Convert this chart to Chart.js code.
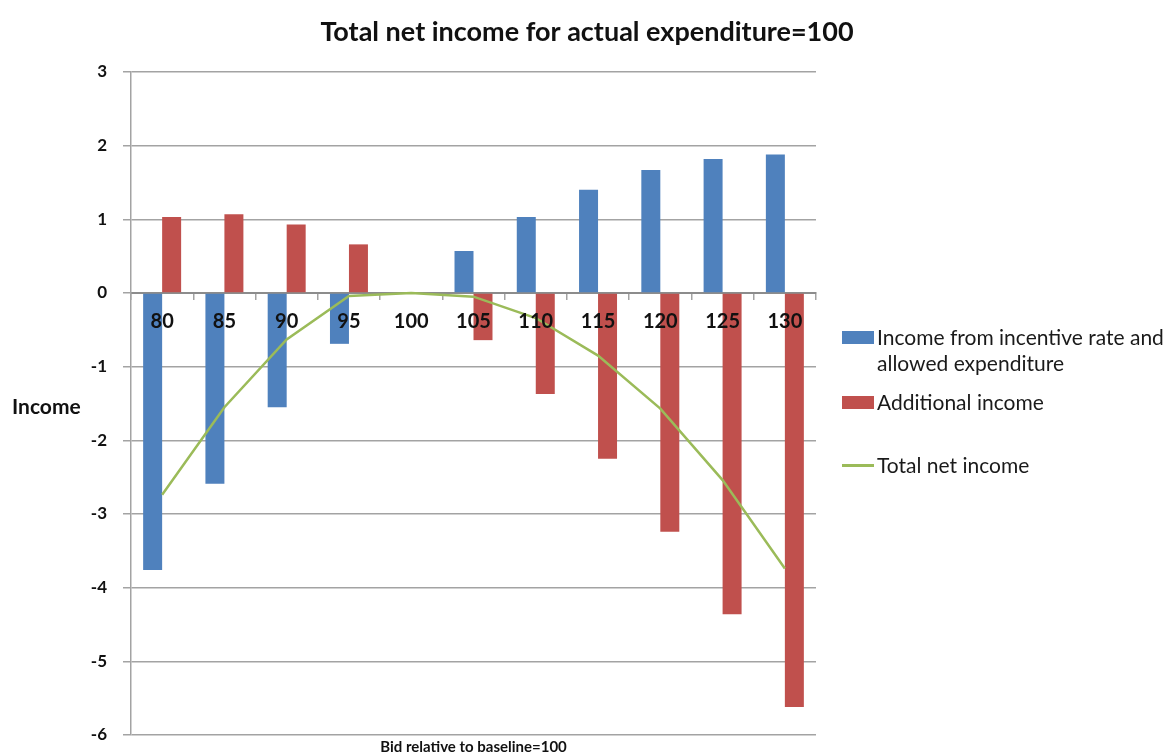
<!DOCTYPE html>
<html>
<head>
<meta charset="utf-8">
<script src="https://cdn.jsdelivr.net/npm/chart.js@4/dist/chart.umd.min.js"></script>
<style>
  html, body { margin: 0; padding: 0; background: #fff; }
  #wrap { position: relative; width: 1167px; height: 756px; }
  #legend { position: absolute; left: 842px; top: 0; font-family: Lato, "Open Sans", sans-serif; font-size: 21px; color: #1a1a1a; }
  .item { position: absolute; left: 0; white-space: nowrap; line-height: 26px; }
  .sw { position: absolute; left: 0; width: 32px; }
  .txt { position: absolute; left: 35px; }
</style>
</head>
<body>
<div id="wrap">
  <canvas id="chart" width="1167" height="756"></canvas>
  <div id="legend"></div>
</div>
<script>
// ── Data ─────────────────────────────────────────────────────
const bids       = ['80', '85', '90', '95', '100', '105', '110', '115', '120', '125', '130'];
const incentive  = [-3.76, -2.59, -1.55, -0.69, 0, 0.57, 1.03, 1.40, 1.67, 1.82, 1.88];
const additional = [1.03, 1.07, 0.93, 0.66, 0, -0.64, -1.37, -2.25, -3.24, -4.36, -5.62];
const totalNet   = [-2.74, -1.55, -0.63, -0.04, 0, -0.05, -0.34, -0.85, -1.57, -2.54, -3.74];
const yTicks     = [3, 2, 1, 0, -1, -2, -3, -4, -5, -6];

const seriesNames = ['Income from incentive rate and\nallowed expenditure', 'Additional income', 'Total net income'];
const colors      = ['#4F81BD', '#C0504D', '#9BBB59'];

const GRID = '#a3a3a3';

// ── Extra text: title, axis titles ──────────────────────────
const textPlugin = {
    id: 'texts',
    afterDraw(chart) {
        const ctx = chart.ctx;
        const a = chart.chartArea;
        ctx.save();
        ctx.fillStyle = '#111';
        ctx.textBaseline = 'middle';
        ctx.textAlign = 'center';
        ctx.font = 'bold 27px Lato, "Open Sans", sans-serif';
        ctx.fillText('Total net income for actual expenditure=100', 587, 32);
        ctx.font = 'bold 15px Lato, "Open Sans", sans-serif';
        ctx.fillText('Bid relative to baseline=100', (a.left + a.right) / 2, 747);
        ctx.textAlign = 'left';
        ctx.font = 'bold 21px Lato, "Open Sans", sans-serif';
        ctx.fillText('Income', 12, 407);
        ctx.restore();
    }
};

new Chart(document.getElementById('chart'), {
    type: 'bar',
    data: {
        labels: bids,
        datasets: [
            { type: 'line', label: seriesNames[2], data: totalNet, borderColor: colors[2], backgroundColor: colors[2],
              borderWidth: 2.5, pointRadius: 0, tension: 0, order: 0 },
            { label: seriesNames[0], data: incentive, backgroundColor: colors[0], order: 1,
              categoryPercentage: 0.61, barPercentage: 1.0 },
            { label: seriesNames[1], data: additional, backgroundColor: colors[1], order: 1,
              categoryPercentage: 0.61, barPercentage: 1.0 }
        ]
    },
    options: {
        responsive: false,
        animation: false,
        layout: { padding: { left: 0, top: 72, right: 351, bottom: 21 } },
        plugins: {
            legend: { display: false },
            title: { display: false },
            tooltip: { enabled: false }
        },
        scales: {
            x: {
                position: { y: 0 },
                offset: true,
                afterFit(scale) { scale.height = 0; scale.paddingTop = 0; scale.paddingBottom = 0; },
                grid: { drawOnChartArea: false, drawTicks: true, tickLength: 6, color: GRID, lineWidth: 1.5, offset: true },
                border: { color: '#8c8c8c', width: 2 },
                ticks: { z: 1, color: '#111', padding: 11, font: { family: 'Lato', size: 20, weight: 'bold' }, maxRotation: 0, autoSkip: false }
            },
            y: {
                min: -6, max: 3,
                afterFit(scale) { scale.width = 131; scale.paddingTop = 0; scale.paddingBottom = 0; },
                afterBuildTicks(scale) { scale.ticks = yTicks.map(v => ({ value: v })); },
                grid: { color: GRID, lineWidth: 1.5, tickLength: 8 },
                border: { color: GRID, width: 1.5 },
                ticks: { color: '#111', padding: 16, font: { family: 'Lato', size: 17, weight: 'bold' } }
            }
        }
    },
    plugins: [textPlugin]
});

// ── HTML legend ─────────────────────────────────────────────
const legend = document.getElementById('legend');
const legendRows = [
    { top: 324, kind: 'box' },
    { top: 389, kind: 'box' },
    { top: 452, kind: 'line' }
];
legendRows.forEach((row, i) => {
    const item = document.createElement('div');
    item.className = 'item';
    item.style.top = row.top + 'px';
    const sw = document.createElement('div');
    sw.className = 'sw';
    sw.style.background = colors[i];
    if (row.kind === 'box') { sw.style.top = '7px'; sw.style.height = '13px'; }
    else { sw.style.top = '12px'; sw.style.height = '3px'; }
    const txt = document.createElement('div');
    txt.className = 'txt';
    txt.innerHTML = seriesNames[i].split('\n').join('<br>');
    item.appendChild(sw);
    item.appendChild(txt);
    legend.appendChild(item);
});
</script>
</body>
</html>
